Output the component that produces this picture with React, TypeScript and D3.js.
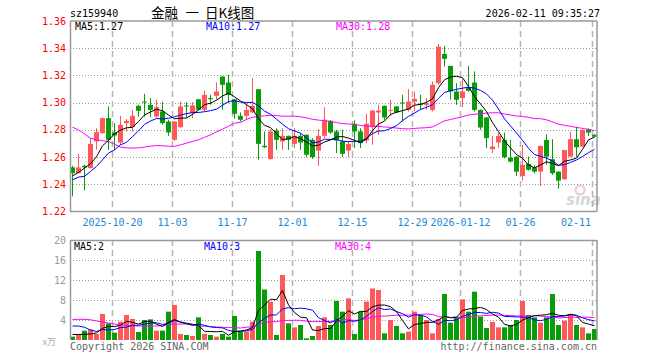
import React from "react";
import * as d3 from "d3";

const tickIndex = [7, 17, 27, 37, 47, 57, 65, 75, 87];
const tickLabels = ["2025-10-20", "11-03", "11-17", "12-01", "12-15", "12-29", "2026-01-12", "01-26", "02-11"];
const priceTicks = [1.22, 1.24, 1.26, 1.28, 1.3, 1.32, 1.34, 1.36];
const volTicks = [4, 8, 12, 16, 20];

const opens = [1.2524,1.2482,1.2536,1.2519,1.2715,1.2776,1.2886,1.2781,1.2707,1.2849,
1.2820,1.2977,1.3008,1.2984,1.2898,1.2935,1.2861,1.2727,1.2820,1.2979,
1.2923,1.3025,1.2947,1.3033,1.3050,1.3192,1.3148,1.3025,1.2903,1.2903,
1.2928,1.3099,1.2683,1.2585,1.2795,1.2715,1.2756,1.2697,1.2756,1.2764,
1.2727,1.2648,1.2756,1.2866,1.2788,1.2715,1.2648,1.2844,1.2788,1.2722,
1.2820,1.2928,1.2977,1.2940,1.2972,1.3001,1.2947,1.3008,1.2991,1.2984,
1.2947,1.3143,1.3358,1.3270,1.3082,1.3033,1.3111,1.3148,1.2947,1.2891,
1.2658,1.2707,1.2726,1.2596,1.2603,1.2461,1.2550,1.2525,1.2493,1.2726,
1.2584,1.2493,1.2437,1.2603,1.2731,1.2677,1.2804,1.2763];
const highs = [1.2536,1.2624,1.2543,1.2739,1.2812,1.2890,1.2972,1.2849,1.2903,1.2879,
1.2947,1.2984,1.3065,1.3033,1.3021,1.3008,1.2874,1.2864,1.3008,1.3003,
1.3003,1.3028,1.3089,1.3057,1.3148,1.3194,1.3204,1.3028,1.2928,1.2996,
1.3180,1.3101,1.2788,1.2805,1.2812,1.2812,1.2758,1.2812,1.2776,1.2766,
1.2739,1.2805,1.2967,1.2874,1.2800,1.2800,1.2715,1.2869,1.2812,1.2918,
1.2944,1.2984,1.2979,1.3021,1.2975,1.3057,1.3099,1.3082,1.3057,1.3033,
1.3155,1.3432,1.3417,1.3270,1.3143,1.3172,1.3270,1.3229,1.2950,1.2893,
1.2756,1.2776,1.2780,1.2726,1.2605,1.2689,1.2603,1.2540,1.2682,1.2767,
1.2731,1.2495,1.2652,1.2787,1.2824,1.2804,1.2811,1.2770];
const lows = [1.2311,1.2480,1.2355,1.2515,1.2653,1.2771,1.2653,1.2653,1.2690,1.2788,
1.2788,1.2898,1.2898,1.2893,1.2886,1.2837,1.2756,1.2719,1.2812,1.2893,
1.2886,1.2945,1.2935,1.2984,1.3021,1.2947,1.2996,1.2881,1.2861,1.2874,
1.2923,1.2580,1.2666,1.2583,1.2653,1.2653,1.2653,1.2666,1.2653,1.2600,
1.2587,1.2536,1.2739,1.2771,1.2629,1.2600,1.2600,1.2666,1.2666,1.2702,
1.2690,1.2764,1.2874,1.2903,1.2923,1.2861,1.2935,1.2935,1.2947,1.2947,
1.2935,1.3131,1.3265,1.3021,1.2984,1.2967,1.3082,1.2935,1.2800,1.2666,
1.2629,1.2666,1.2591,1.2560,1.2461,1.2427,1.2501,1.2480,1.2388,1.2542,
1.2469,1.2368,1.2432,1.2603,1.2603,1.2675,1.2755,1.2745];
const closes = [1.2482,1.2524,1.2524,1.2697,1.2783,1.2886,1.2727,1.2759,1.2837,1.2866,
1.2903,1.2940,1.3001,1.2947,1.2967,1.2849,1.2781,1.2861,1.2972,1.2972,
1.2979,1.2947,1.3057,1.3025,1.3082,1.3131,1.3057,1.2918,1.2874,1.2947,
1.2977,1.2697,1.2673,1.2788,1.2727,1.2756,1.2727,1.2756,1.2707,1.2617,
1.2600,1.2756,1.2874,1.2781,1.2722,1.2624,1.2697,1.2788,1.2702,1.2844,
1.2942,1.2942,1.2891,1.2947,1.2928,1.2996,1.3008,1.3028,1.2981,1.2996,
1.3131,1.3412,1.3322,1.3082,1.3021,1.3082,1.3087,1.2947,1.2817,1.2739,
1.2678,1.2756,1.2599,1.2567,1.2493,1.2542,1.2506,1.2493,1.2682,1.2603,
1.2481,1.2427,1.2652,1.2731,1.2672,1.2799,1.2780,1.2750];
const volumes = [0.67,1.2,1.87,2.13,1.2,5.2,3.33,1.47,3.67,5.0,
4.2,1.6,4.0,4.13,1.87,1.87,5.67,7.0,1.2,1.0,
0.8,4.53,1.2,1.0,0.67,1.2,0.67,4.8,1.67,1.67,
3.67,17.8,10.1,7.67,1.0,13.0,3.33,2.53,3.0,0.33,
0.8,2.8,4.53,3.0,7.8,5.67,8.33,1.2,5.67,7.67,
10.3,10.0,1.33,4.0,2.8,1.33,1.67,5.67,5.0,4.0,
1.33,4.2,9.2,3.47,4.53,8.13,5.67,9.67,4.67,2.4,
3.6,2.53,2.53,3.0,4.0,7.8,5.0,4.53,3.47,4.53,
9.2,3.0,3.87,5.2,3.0,2.53,1.33,2.2];

const ma5Head = [1.2462, 1.2487, 1.2519, 1.2551];
const ma10Head = [1.2433, 1.2453, 1.2458, 1.2494, 1.2531, 1.2580, 1.2629, 1.2653, 1.2690];
const ma30Head = [1.2820,1.2800,1.2770,1.2739,1.2727,1.2720,1.2715,1.2695,1.2673,1.2668,
1.2666,1.2668,1.2673,1.2680,1.2685,1.2683,1.2680,1.2678,1.2690,1.2702,
1.2715,1.2727,1.2745,1.2763,1.2785,1.2805,1.2827,1.2849,1.2856];
const vma5Head = [1.1, 1.1, 1.15, 1.2];
const vma10Head = [2.8, 2.8, 2.55, 2.0, 1.7, 2.1, 2.0, 2.1, 2.5];
const vma30Head = [4.1,4.13,4.13,4.05,3.8,3.6,3.4,3.2,3.0,2.95,
2.85,2.8,2.8,2.8,2.8,2.9,3.1,3.2,3.2,3.2,
3.1,2.8,2.75,2.7,2.6,2.53,2.5,2.45,2.4];

const RED = "#ff5858";
const GREEN = "#089c08";
const MONO = "'DejaVu Sans Mono', 'Liberation Mono', monospace";
const CJK = "'Noto Sans CJK SC', sans-serif";

function movingAvg(vals: number[], n: number, head: number[]) {
  return vals.map((_, i) => (i < n - 1 ? head[i] : (d3.mean(vals.slice(i - n + 1, i + 1)) as number)));
}

export default function App() {
  const L = 70, R = 597;
  const pTop = 21, pBot = 211.5;
  const vTop = 240, vBot = 340;
  const x = d3.scaleLinear().domain([0, 1]).range([L, L + 6]);
  const y = d3.scaleLinear().domain([1.22, 1.36]).range([pBot, pTop]);
  const yv = d3.scaleLinear().domain([0, 20]).range([vBot, vTop]);
  const cx = (i: number) => x(i) + 2.5;

  const ma5 = movingAvg(closes, 5, ma5Head);
  const ma10 = movingAvg(closes, 10, ma10Head);
  const ma30 = movingAvg(closes, 30, ma30Head);
  const vma5 = movingAvg(volumes, 5, vma5Head);
  const vma10 = movingAvg(volumes, 10, vma10Head);
  const vma30 = movingAvg(volumes, 30, vma30Head);

  const pLine = d3.line<number>().x((_, i) => cx(i)).y((d) => y(d));
  const vLine = d3.line<number>().x((_, i) => cx(i)).y((d) => yv(d));
  const snap = (v: number) => Math.round(v) + 0.5;

  return (
    <svg width={660} height={360} style={{ position: "absolute", left: 0, top: 0, background: "#fff" }}>
      {/* header */}
      <text x={70} y={17} fontFamily={MONO} fontSize={10} fill="#000">sz159940</text>
      <text x={151} y={18} fontFamily={CJK} fontSize={13.5} fill="#000">金融</text>
      <text x={185.5} y={18} fontFamily={CJK} fontSize={13.5} fill="#000">一</text>
      <text x={205} y={18} fontFamily={CJK} fontSize={13.5} fill="#000">日K线图</text>
      <text x={600} y={17} textAnchor="end" fontFamily={MONO} fontSize={10} fill="#000">2026-02-11 09:35:27</text>

      {/* price grid */}
      {priceTicks.slice(1, -1).map((t) => (
        <line key={"pg" + t} x1={L} x2={R} y1={snap(y(t))} y2={snap(y(t))} stroke="#999" strokeDasharray="1,2" />
      ))}
      {tickIndex.map((ti) => (
        <line key={"pv" + ti} x1={x(ti) + 0.5} x2={x(ti) + 0.5} y1={pTop} y2={pBot} stroke="#b4b4b4" strokeWidth={1.5} strokeDasharray="6,4" />
      ))}
      {priceTicks.map((t) => (
        <text key={"pl" + t} x={66} y={y(t) + 3.5} textAnchor="end" fontFamily={MONO} fontSize={10} fill="#f00">{t.toFixed(2)}</text>
      ))}
      {tickIndex.map((ti, k) => {
        const last = k === tickIndex.length - 1;
        return (
          <text key={"xl" + ti} x={last ? 591 : x(ti) + 0.5} y={226} textAnchor={last ? "end" : "middle"} fontFamily={MONO} fontSize={10} fill="#1c8ad6">{tickLabels[k]}</text>
        );
      })}

      {/* sina watermark */}
      <g opacity={0.55}>
        <circle cx={580} cy={190} r={4.5} fill="none" stroke="#e79a9a" strokeWidth={2} />
        <text x={566} y={205} fontFamily="'DejaVu Sans', sans-serif" fontStyle="italic" fontWeight="bold" fontSize={15} fill="#b5b5b5">sina</text>
      </g>

      {/* candles */}
      {closes.map((c, i) => {
        const o = opens[i];
        const col = c >= o ? RED : GREEN;
        const top = y(Math.max(o, c));
        const h = Math.max(1, Math.abs(y(o) - y(c)));
        return (
          <g key={"c" + i}>
            <line x1={cx(i)} x2={cx(i)} y1={y(highs[i])} y2={y(lows[i])} stroke={col} strokeWidth={1} />
            <rect x={x(i)} y={top} width={5} height={h} fill={col} />
          </g>
        );
      })}
      <path d={pLine(ma30) || ""} fill="none" stroke="#ff00ff" strokeWidth={1} />
      <path d={pLine(ma10) || ""} fill="none" stroke="#0000ff" strokeWidth={1} />
      <path d={pLine(ma5) || ""} fill="none" stroke="#000" strokeWidth={1} />

      {/* price frame */}
      <line x1={L} x2={R} y1={pTop} y2={pTop} stroke="#999" strokeWidth={1.5} />
      <line x1={L} x2={R} y1={pBot} y2={pBot} stroke="#999" strokeWidth={1.5} />
      <line x1={L + 0.5} x2={L + 0.5} y1={pTop} y2={pBot} stroke="#999" strokeWidth={1.5} />
      <line x1={R} x2={R} y1={pTop} y2={pBot} stroke="#999" strokeWidth={1.5} />

      <text x={75} y={30} fontFamily={MONO} fontSize={10} fill="#000">MA5:1.27</text>
      <text x={206} y={30} fontFamily={MONO} fontSize={10} fill="#0000ff">MA10:1.27</text>
      <text x={336} y={30} fontFamily={MONO} fontSize={10} fill="#ff00ff">MA30:1.28</text>

      {/* volume grid */}
      {volTicks.slice(0, -1).map((t) => (
        <line key={"vg" + t} x1={L} x2={R} y1={snap(yv(t))} y2={snap(yv(t))} stroke="#999" strokeDasharray="1,2" />
      ))}
      {tickIndex.map((ti) => (
        <line key={"vv" + ti} x1={x(ti) + 0.5} x2={x(ti) + 0.5} y1={vTop} y2={vBot} stroke="#b4b4b4" strokeWidth={1.5} strokeDasharray="6,4" />
      ))}
      {volTicks.map((t) => (
        <text key={"vl" + t} x={66} y={yv(t) + 3.5} textAnchor="end" fontFamily={MONO} fontSize={10} fill="#999">{t}</text>
      ))}
      <text x={56} y={345} textAnchor="end" fontFamily={CJK} fontSize={9} fill="#aaa">x万</text>

      {volumes.map((v, i) => (
        <rect key={"v" + i} x={x(i)} y={yv(v)} width={5} height={vBot - yv(v)} fill={closes[i] >= opens[i] ? RED : GREEN} />
      ))}
      <path d={vLine(vma30) || ""} fill="none" stroke="#ff00ff" strokeWidth={1} />
      <path d={vLine(vma10) || ""} fill="none" stroke="#0000ff" strokeWidth={1} />
      <path d={vLine(vma5) || ""} fill="none" stroke="#000" strokeWidth={1} />

      <line x1={L} x2={R} y1={vTop + 0.5} y2={vTop + 0.5} stroke="#999" strokeWidth={1.5} />
      <line x1={L + 0.5} x2={L + 0.5} y1={vTop} y2={vBot} stroke="#999" strokeWidth={1.5} />
      <line x1={R} x2={R} y1={vTop} y2={vBot} stroke="#999" strokeWidth={1.5} />

      <text x={74} y={250} fontFamily={MONO} fontSize={10} fill="#000">MA5:2</text>
      <text x={204} y={250} fontFamily={MONO} fontSize={10} fill="#0000ff">MA10:3</text>
      <text x={335} y={250} fontFamily={MONO} fontSize={10} fill="#ff00ff">MA30:4</text>

      <text x={70} y={350} fontFamily={MONO} fontSize={10} fill="#666">Copyright 2026 SINA.COM</text>
      <text x={597} y={350} textAnchor="end" fontFamily={MONO} fontSize={10} fill="#666">http://finance.sina.com.cn</text>
    </svg>
  );
}
